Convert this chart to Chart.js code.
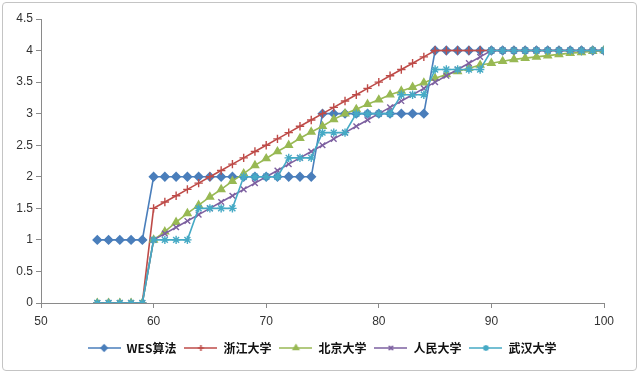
<!DOCTYPE html>
<html>
<head>
<meta charset="utf-8">
<script src="https://cdn.jsdelivr.net/npm/chart.js@4/dist/chart.umd.min.js"></script>
<style>
  html, body { margin:0; padding:0; background:#fff; }
  #wrap { position:relative; width:640px; height:374px; }
  #frame { position:absolute; left:2px; top:2px; width:633px; height:367px; border:1px solid #c4c4c4; border-radius:4px; pointer-events:none; }
  canvas { position:absolute; left:0; top:0; }
</style>
</head>
<body>
<div id="wrap">
  <canvas id="scoreChart" width="640" height="374"></canvas>
  <div id="frame"></div>
</div>
<script>
// scores on the x axis
const scores = [55,56,57,58,59,60,61,62,63,64,65,66,67,68,69,70,71,72,73,74,75,76,77,78,79,80,
  81,82,83,84,85,86,87,88,89,90,91,92,93,94,95,96,97,98,99,100];

const seriesNames = ['WES算法','浙江大学','北京大学','人民大学','武汉大学'];

const wes = [1,1,1,1,1, 2,2,2,2,2,2,2,2,2,2,2,2,2,2,2, 3,3,3,3,3,3,3,3,3,3,
  4,4,4,4,4,4,4,4,4,4,4,4,4,4,4,4];
const zju = [0,0,0,0,0, 1.5,1.6,1.7,1.8,1.9,2.0,2.1,2.2,2.3,2.4,2.5,2.6,2.7,2.8,2.9,3.0,3.1,3.2,3.3,3.4,
  3.5,3.6,3.7,3.8,3.9,4.0, 4,4,4,4,4,4,4,4,4,4,4,4,4,4,4];
const pku = [0,0,0,0,0, 1.0,1.13,1.28,1.42,1.55,1.68,1.8,1.93,2.05,2.18,2.29,2.4,2.5,2.61,2.71,2.8,2.91,3.0,
  3.07,3.15,3.22,3.3,3.36,3.42,3.49,3.56,3.62,3.67,3.72,3.77,3.8,3.83,3.86,3.88,3.9,3.92,3.94,3.96,3.97,3.99,4.0];
const ruc = [0,0,0,0,0, 1.0,1.1,1.2,1.3,1.4,1.5,1.6,1.7,1.8,1.9,2.0,2.1,2.2,2.3,2.4,2.5,2.6,2.7,2.8,2.9,
  3.0,3.1,3.2,3.3,3.4,3.5,3.6,3.7,3.8,3.9,4.0, 4,4,4,4,4,4,4,4,4,4];
const whu = [0,0,0,0,0, 1,1,1,1, 1.5,1.5,1.5,1.5, 2,2,2,2, 2.3,2.3,2.3, 2.7,2.7,2.7, 3,3,3,3, 3.3,3.3,3.3,
  3.7,3.7,3.7,3.7,3.7, 4,4,4,4,4,4,4,4,4,4,4];

const xTicks = [50,60,70,80,90,100];
const yTicks = [0,0.5,1,1.5,2,2.5,3,3.5,4,4.5];

const colors = ['#4a7ebb','#be4b48','#98b954','#7d60a0','#46aac5'];
const markers = ['rectRot','cross','triangle','crossRot','star'];
const markerSize = [4.2,4.2,4.2,4,4.2];

function pts(vals){ return vals.map((v,i)=>({x:scores[i], y:v})); }

function legendIcon(i){
  const c = document.createElement('canvas');
  c.width = 33; c.height = 12;
  const g = c.getContext('2d');
  g.strokeStyle = colors[i]; g.lineWidth = 1.6;
  g.beginPath(); g.moveTo(0,6); g.lineTo(33,6); g.stroke();
  g.fillStyle = colors[i];
  if(Chart.helpers && Chart.helpers.drawPoint){
    Chart.helpers.drawPoint(g,{pointStyle:markers[i], radius:3, borderWidth:1.3, rotation:0},16.5,6);
  }
  return c;
}

// centre the legend on the whole canvas, not on the padded box
const legendShift = {
  id:'legendShift',
  afterLayout(chart){
    if(chart.legend){ chart.legend.left += 20; chart.legend.right += 20; }
  }
};

const allSeries = [wes, zju, pku, ruc, whu];

document.addEventListener('DOMContentLoaded', ()=>{
  const ctx = document.getElementById('scoreChart');
  new Chart(ctx,{ type:'line',
    data:{ datasets: allSeries.map((vals,i)=>({
      label: seriesNames[i], data: pts(vals),
      borderColor: colors[i], backgroundColor: colors[i],
      borderWidth: 1.6, pointStyle: markers[i], pointRadius: markerSize[i],
      pointBorderWidth: 1.4, pointBorderColor: colors[i], pointBackgroundColor: colors[i],
      tension: 0, order: allSeries.length - i
    }))},
    options:{
      responsive:false, animation:false,
      layout:{ padding:{ left:0, right:36, top:19, bottom:10 } },
      plugins:{
        tooltip:{enabled:false},
        legend:{ position:'bottom',
          labels:{ usePointStyle:true, pointStyleWidth:33, padding:8, color:'#111',
            font:{ family:'"Noto Sans CJK SC", sans-serif', size:12, weight:'bold' },
            generateLabels: chart => chart.data.datasets.map((ds,i)=>({
              text: ds.label, pointStyle: legendIcon(i), datasetIndex:i,
              fontColor:'#111', lineWidth:0, hidden:false
            }))
          }
        }
      },
      scales:{
        x:{ type:'linear', min:50, max:100,
          afterBuildTicks: s => { s.ticks = xTicks.map(v=>({value:v})); },
          afterFit: s => { s.height = 31; },
          border:{ color:'#8a8a8a', width:1 },
          grid:{ drawOnChartArea:false, drawTicks:true, tickLength:5, color:'#8a8a8a' },
          ticks:{ color:'#333', padding:6, font:{ family:'"Liberation Sans", sans-serif', size:12 } }
        },
        y:{ min:0, max:4.5,
          afterBuildTicks: s => { s.ticks = yTicks.map(v=>({value:v})); },
          afterFit: s => { s.width = 41; },
          border:{ color:'#8a8a8a', width:1 },
          grid:{ drawOnChartArea:false, drawTicks:true, tickLength:5, color:'#8a8a8a' },
          ticks:{ color:'#333', padding:3, callback: v => String(v),
            font:{ family:'"Liberation Sans", sans-serif', size:12 } }
        }
      }
    },
    plugins:[legendShift]
  });
});
</script>
</body>
</html>
